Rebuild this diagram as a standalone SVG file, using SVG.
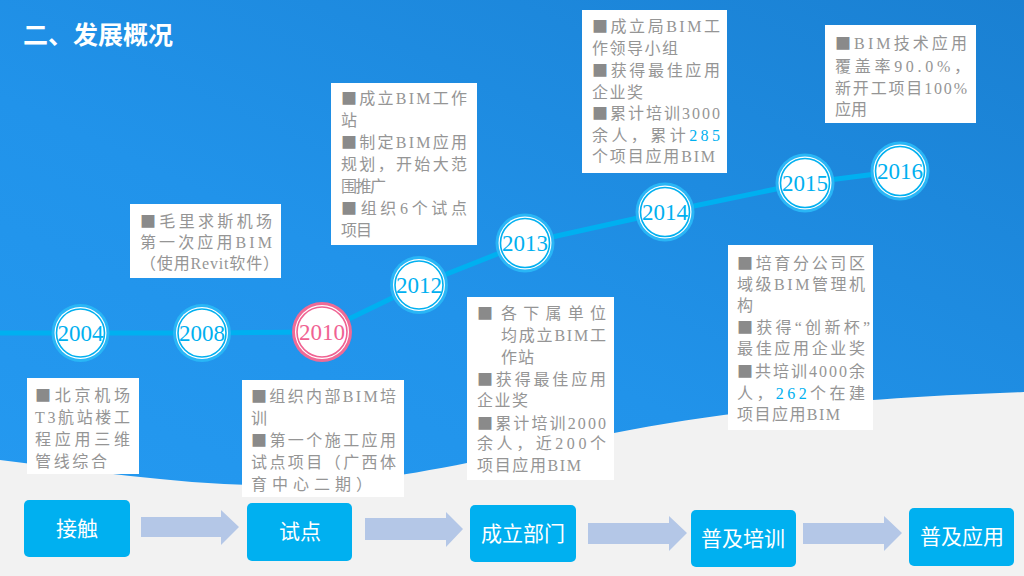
<svg xmlns="http://www.w3.org/2000/svg" width="1024" height="576" viewBox="0 0 1024 576">
<defs>
<linearGradient id="bg" x1="1" y1="0" x2="0" y2="1">
<stop offset="0" stop-color="#1a80d2"/>
<stop offset="0.6" stop-color="#2193ea"/>
<stop offset="1" stop-color="#2499f0"/>
</linearGradient>
<style>
.box{fill:#ffffff;}
.t{font-family:"Liberation Serif","Noto Sans CJK SC",serif;font-size:16px;fill:#959595;}
.sq{font-family:"Noto Sans CJK SC",sans-serif;fill:#8a8a8a;}
.hl{fill:#00b0f0;}
.yr{font-family:"Liberation Serif",serif;font-size:23px;fill:#00b0f0;text-anchor:middle;}
.pink .yr{fill:#f06292;}
.ring{fill:#29b6f6;}
.pink .ring{fill:#f06a96;}
.gap{fill:#ffffff;}
.inner{fill:#ffffff;stroke:#00b0f0;stroke-width:1.6;}
.pink .inner{stroke:#f06292;}
.stage rect{fill:#00b0f0;}
.stage text{font-family:"Noto Sans CJK SC",sans-serif;font-size:21px;fill:#ffffff;text-anchor:middle;}
.arrow{fill:#b4c7e7;}
.line{fill:none;stroke:#00b0f0;stroke-width:5;stroke-linejoin:round;}
</style>
</defs>
<rect width="1024" height="576" fill="#f2f2f2"/>
<path d="M0,0 H1024 V392 C850,398 720,412 614,433 C500,455 400,482 300,485 C200,488 100,472 0,460 Z" fill="url(#bg)"/>
<text x="23" y="44" font-family="Noto Sans CJK SC, sans-serif" font-size="25" font-weight="bold" fill="#ffffff">二、发展概况</text>

<g id="connectors">
<polyline class="line" points="0,333 202,333 322,332 419,285 525,243 665,212 805,183 900,171"/>
<path class="arrow" d="M141,517 H221 V510 L239,527 L221,545 V537 H141 Z"/>
<path class="arrow" d="M365,518 H446 V512 L463,529 L446,547 V540 H365 Z"/>
<path class="arrow" d="M588,523 H669 V516 L687,533 L669,551 V544 H588 Z"/>
<path class="arrow" d="M803,523 H884 V516 L902,533 L884,551 V544 H803 Z"/>
</g>

<g id="y2004"><circle class="ring" cx="80.5" cy="333" r="29"/><circle class="gap" cx="80.5" cy="333" r="26"/><circle class="inner" cx="80.5" cy="333" r="24"/><text class="yr" x="80.5" y="341">2004</text></g>
<g id="y2008"><circle class="ring" cx="202" cy="333" r="29"/><circle class="gap" cx="202" cy="333" r="26"/><circle class="inner" cx="202" cy="333" r="24"/><text class="yr" x="202" y="341">2008</text></g>
<g id="y2010" class="pink"><circle class="ring" cx="322" cy="332" r="30"/><circle class="gap" cx="322" cy="332" r="27"/><circle class="inner" cx="322" cy="332" r="25"/><text class="yr" x="322" y="340">2010</text></g>
<g id="y2012"><circle class="ring" cx="419" cy="285" r="29"/><circle class="gap" cx="419" cy="285" r="26"/><circle class="inner" cx="419" cy="285" r="24"/><text class="yr" x="419" y="293">2012</text></g>
<g id="y2013"><circle class="ring" cx="525" cy="243" r="29.5"/><circle class="gap" cx="525" cy="243" r="26.5"/><circle class="inner" cx="525" cy="243" r="24.5"/><text class="yr" x="525" y="251">2013</text></g>
<g id="y2014"><circle class="ring" cx="665" cy="212" r="29.5"/><circle class="gap" cx="665" cy="212" r="26.5"/><circle class="inner" cx="665" cy="212" r="24.5"/><text class="yr" x="665" y="220">2014</text></g>
<g id="y2015"><circle class="ring" cx="805" cy="183" r="29.5"/><circle class="gap" cx="805" cy="183" r="26.5"/><circle class="inner" cx="805" cy="183" r="24.5"/><text class="yr" x="805" y="191">2015</text></g>
<g id="y2016"><circle class="ring" cx="900" cy="171" r="29.5"/><circle class="gap" cx="900" cy="171" r="26.5"/><circle class="inner" cx="900" cy="171" r="24.5"/><text class="yr" x="900" y="179">2016</text></g>

<g id="note2004">
<rect class="box" x="27" y="378" width="112" height="96"/>
<text class="t" x="35" y="401" textLength="95" lengthAdjust="spacing"><tspan class="sq">■</tspan>北京机场</text>
<text class="t" x="35" y="423" textLength="95" lengthAdjust="spacing">T3航站楼工</text>
<text class="t" x="35" y="445" textLength="95" lengthAdjust="spacing">程应用三维</text>
<text class="t" x="35" y="467" textLength="72" lengthAdjust="spacing">管线综合</text>
</g>

<g id="note2008">
<rect class="box" x="130" y="204" width="151" height="74"/>
<text class="t" x="140" y="227" textLength="132" lengthAdjust="spacing"><tspan class="sq">■</tspan>毛里求斯机场</text>
<text class="t" x="140" y="248" textLength="132" lengthAdjust="spacing">第一次应用BIM</text>
<text class="t" x="140" y="269" textLength="139" lengthAdjust="spacing">（使用Revit软件）</text>
</g>

<g id="note2010">
<rect class="box" x="242" y="380" width="162" height="117"/>
<text class="t" x="251" y="402" textLength="145" lengthAdjust="spacing"><tspan class="sq">■</tspan>组织内部BIM培</text>
<text class="t" x="251" y="424">训</text>
<text class="t" x="251" y="446" textLength="145" lengthAdjust="spacing"><tspan class="sq">■</tspan>第一个施工应用</text>
<text class="t" x="251" y="468" textLength="145" lengthAdjust="spacing">试点项目（广西体</text>
<text class="t" x="251" y="490" textLength="121" lengthAdjust="spacing">育中心二期）</text>
</g>

<g id="note2012">
<rect class="box" x="331" y="83" width="146" height="162"/>
<text class="t" x="341" y="104" textLength="126" lengthAdjust="spacing"><tspan class="sq">■</tspan>成立BIM工作</text>
<text class="t" x="341" y="126">站</text>
<text class="t" x="341" y="148" textLength="126" lengthAdjust="spacing"><tspan class="sq">■</tspan>制定BIM应用</text>
<text class="t" x="341" y="170" textLength="126" lengthAdjust="spacing">规划，开始大范</text>
<text class="t" x="341" y="192" textLength="45" lengthAdjust="spacing">围推广</text>
<text class="t" x="341" y="214" textLength="126" lengthAdjust="spacing"><tspan class="sq">■</tspan>组织6个试点</text>
<text class="t" x="341" y="236" textLength="31" lengthAdjust="spacing">项目</text>
</g>

<g id="note2013">
<rect class="box" x="467" y="297" width="147" height="183"/>
<text class="t sq" x="477" y="319">■</text>
<text class="t" x="501" y="319" textLength="105" lengthAdjust="spacing">各下属单位</text>
<text class="t" x="501" y="341" textLength="105" lengthAdjust="spacing">均成立BIM工</text>
<text class="t" x="501" y="363" textLength="33" lengthAdjust="spacing">作站</text>
<text class="t" x="477" y="385" textLength="129" lengthAdjust="spacing"><tspan class="sq">■</tspan>获得最佳应用</text>
<text class="t" x="477" y="406" textLength="51" lengthAdjust="spacing">企业奖</text>
<text class="t" x="477" y="429" textLength="129" lengthAdjust="spacing"><tspan class="sq">■</tspan>累计培训2000</text>
<text class="t" x="477" y="449" textLength="129" lengthAdjust="spacing">余人，近200个</text>
<text class="t" x="477" y="471" textLength="104" lengthAdjust="spacing">项目应用BIM</text>
</g>

<g id="note2014">
<rect class="box" x="582" y="10" width="145" height="163"/>
<text class="t" x="592" y="32" textLength="128" lengthAdjust="spacing"><tspan class="sq">■</tspan>成立局BIM工</text>
<text class="t" x="592" y="54" textLength="86" lengthAdjust="spacing">作领导小组</text>
<text class="t" x="592" y="76" textLength="128" lengthAdjust="spacing"><tspan class="sq">■</tspan>获得最佳应用</text>
<text class="t" x="592" y="98" textLength="51" lengthAdjust="spacing">企业奖</text>
<text class="t" x="592" y="119" textLength="128" lengthAdjust="spacing"><tspan class="sq">■</tspan>累计培训3000</text>
<text class="t" x="592" y="141" textLength="128" lengthAdjust="spacing">余人，累计<tspan class="hl">285</tspan></text>
<text class="t" x="592" y="162" textLength="123" lengthAdjust="spacing">个项目应用BIM</text>
</g>

<g id="note2015">
<rect class="box" x="728" y="245" width="145" height="185"/>
<text class="t" x="737" y="269" textLength="128" lengthAdjust="spacing"><tspan class="sq">■</tspan>培育分公司区</text>
<text class="t" x="737" y="290" textLength="128" lengthAdjust="spacing">域级BIM管理机</text>
<text class="t" x="737" y="311">构</text>
<text class="t" x="737" y="333" textLength="133" lengthAdjust="spacing"><tspan class="sq">■</tspan>获得“创新杯”</text>
<text class="t" x="737" y="354" textLength="128" lengthAdjust="spacing">最佳应用企业奖</text>
<text class="t" x="737" y="377" textLength="128" lengthAdjust="spacing"><tspan class="sq">■</tspan>共培训4000余</text>
<text class="t" x="737" y="399" textLength="128" lengthAdjust="spacing">人，<tspan class="hl">262</tspan>个在建</text>
<text class="t" x="737" y="420" textLength="103" lengthAdjust="spacing">项目应用BIM</text>
</g>

<g id="note2016">
<rect class="box" x="825" y="25" width="151" height="98"/>
<text class="t" x="835" y="49" textLength="132" lengthAdjust="spacing"><tspan class="sq">■</tspan>BIM技术应用</text>
<text class="t" x="835" y="72" textLength="135" lengthAdjust="spacing">覆盖率90.0%，</text>
<text class="t" x="835" y="94" textLength="132" lengthAdjust="spacing">新开工项目100%</text>
<text class="t" x="835" y="115" textLength="32" lengthAdjust="spacing">应用</text>
</g>

<g id="stage1" class="stage"><rect x="24" y="500" width="106" height="57" rx="5"/><text x="77" y="536">接触</text></g>
<g id="stage2" class="stage"><rect x="247" y="503" width="105" height="58" rx="5"/><text x="300" y="539">试点</text></g>
<g id="stage3" class="stage"><rect x="470" y="505" width="106" height="57" rx="5"/><text x="523" y="541">成立部门</text></g>
<g id="stage4" class="stage"><rect x="691" y="510" width="105" height="57" rx="5"/><text x="743" y="546">普及培训</text></g>
<g id="stage5" class="stage"><rect x="909" y="508" width="105" height="58" rx="5"/><text x="962" y="544">普及应用</text></g>
</svg>
